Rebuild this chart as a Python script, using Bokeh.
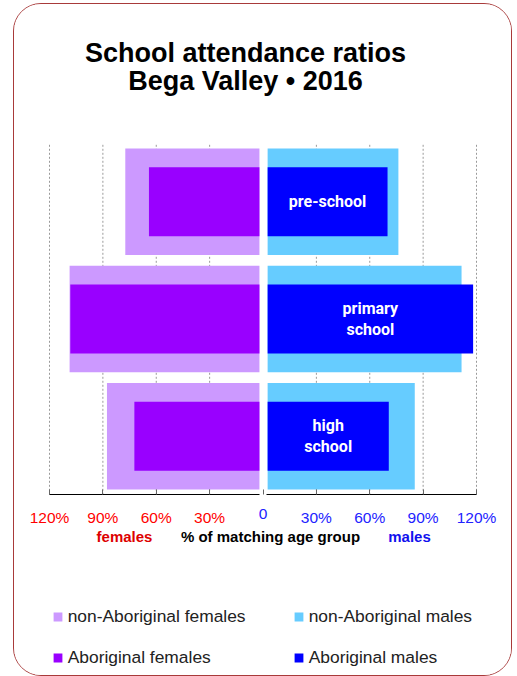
from bokeh.plotting import figure
from bokeh.models import (Range1d, LinearAxis, FixedTicker, Label, Legend, LegendItem,
                          ColumnDataSource, CustomJSTickFormatter)
from bokeh.core.properties import value
from bokeh.embed import file_html
from bokeh.resources import INLINE

# ---------------- data ----------------
categories = ["pre-school", "primary school", "high school"]
non_aboriginal_females = [77.4, 108.7, 87.7]
aboriginal_females = [64.1, 108.3, 72.3]
non_aboriginal_males = [76.1, 111.6, 85.3]
aboriginal_males = [70.0, 118.1, 70.7]
tick_values = [30, 60, 90, 120]

# ---------------- layout / style (pixels) ----------------
W, H = 499, 673                 # canvas size
PX_PER_UNIT = 427 / 240         # horizontal scale (px per %)
ZERO_X = 248.5                  # canvas x of 0 %
BAND_PX = 117.2                 # vertical size of one category band
BARS_BOTTOM = 490.3             # canvas y (from top) of the bottom of the bar area
FEMALE_GAP = 2.0                # white gap between the two halves (in % units)
MALE_GAP = 2.6
C_NAF, C_AF, C_NAM, C_AM = "#cc99ff", "#9900ff", "#66ccff", "#0000ff"

n = len(categories)
ypos = [n - i - 0.5 for i in range(n)]

src = ColumnDataSource(dict(
    y=ypos,
    naf_left=[-v for v in non_aboriginal_females],
    af_left=[-v for v in aboriginal_females],
    f_right=[-FEMALE_GAP] * n,
    m_left=[MALE_GAP] * n,
    nam=non_aboriginal_males,
    am=aboriginal_males,
    label_x=[(MALE_GAP + v) / 2 for v in aboriginal_males],
    label=[c.replace(" ", "\n") for c in categories],
))

x_range = Range1d(-ZERO_X / PX_PER_UNIT, (W - ZERO_X) / PX_PER_UNIT)
y_range = Range1d(-(H - BARS_BOTTOM) / BAND_PX, n + (BARS_BOTTOM - n * BAND_PX) / BAND_PX)

p = figure(width=W, height=H, x_range=x_range, y_range=y_range,
           output_backend="svg", toolbar_location=None,
           x_axis_location=None, y_axis_location=None,
           min_border=0, min_border_left=0, min_border_right=0,
           min_border_top=0, min_border_bottom=0)
p.styles = {"margin-left": "13px", "margin-top": "3px", "margin-bottom": "-20px",
            "border": "1px solid #a83a3a", "border-radius": "28px",
            "overflow": "hidden"}
p.outline_line_color = None
p.xgrid.grid_line_color = None
p.ygrid.grid_line_color = None
p.background_fill_color = "white"
p.border_fill_color = "white"

# dotted vertical grid lines over the bar area
grid_ticks = [-v for v in reversed(tick_values)] + tick_values
p.segment(x0=grid_ticks, x1=grid_ticks, y0=[0] * len(grid_ticks), y1=[n] * len(grid_ticks),
          line_color="#9a9a9a", line_dash="2 2", line_width=1)

# bars
r_naf = p.hbar(y="y", left="naf_left", right="f_right", height=0.909, source=src,
               fill_color=C_NAF, line_color=None)
r_af = p.hbar(y="y", left="af_left", right="f_right", height=0.588, source=src,
              fill_color=C_AF, line_color=None)
r_nam = p.hbar(y="y", left="m_left", right="nam", height=0.909, source=src,
               fill_color=C_NAM, line_color=None)
r_am = p.hbar(y="y", left="m_left", right="am", height=0.588, source=src,
              fill_color=C_AM, line_color=None)

p.text(x="label_x", y="y", text="label", source=src, text_align="center",
       text_baseline="middle", text_color="white", text_font=value("Roboto"),
       text_font_style="bold", text_font_size="16px", text_line_height=1.1)

# axes (drawn at the bottom of the bar area)
fmt = CustomJSTickFormatter(code="return tick == 0 ? '0' : Math.abs(tick) + '%';")
TICK_FONT = "Liberation Sans"


def make_axis(ticks, color, bounds=None, line=True):
    ax = LinearAxis(ticker=FixedTicker(ticks=ticks), formatter=fmt, fixed_location=0,
                    major_tick_in=5, major_tick_out=0, major_tick_line_color="#666666",
                    minor_tick_line_color=None,
                    axis_line_color="black" if line else None,
                    major_label_text_font=TICK_FONT, major_label_text_font_size="15.5px",
                    major_label_text_color=color, major_label_standoff=14)
    if bounds is not None:
        ax.bounds = bounds
    return ax


p.add_layout(make_axis([-v for v in tick_values], "#ff0000", bounds=(-120, -FEMALE_GAP)), "below")
p.add_layout(make_axis([0], "#2222ff", line=False), "below")
p.add_layout(make_axis(tick_values, "#2222ff", bounds=(FEMALE_GAP, 120)), "below")

# titles and axis captions (screen px from the canvas' bottom-left)
for txt, y in [("School attendance ratios", H - 48.3), ("Bega Valley \u2022 2016", H - 76.7)]:
    p.add_layout(Label(x=231, y=y, x_units="screen", y_units="screen", text=txt,
                       text_align="center", text_baseline="alphabetic",
                       text_font="Liberation Sans", text_font_style="bold",
                       text_font_size="27px", text_color="black"))

for txt, x, col in [("females", 110, "#dd0000"), ("% of matching age group", 256, "black"),
                    ("males", 395, "#1111ee")]:
    p.add_layout(Label(x=x, y=H - 531.7, x_units="screen", y_units="screen", text=txt,
                       text_align="center", text_baseline="alphabetic",
                       text_font="Liberation Sans", text_font_style="bold",
                       text_font_size="15px", text_color=col))

legend = Legend(items=[LegendItem(label="non-Aboriginal females", renderers=[r_naf]),
                       LegendItem(label="non-Aboriginal males", renderers=[r_nam]),
                       LegendItem(label="Aboriginal females", renderers=[r_af]),
                       LegendItem(label="Aboriginal males", renderers=[r_am])],
                location=(37.7, 5.8), orientation="horizontal", ncols=2,
                glyph_width=11, glyph_height=11, label_standoff=5,
                label_width=211, label_height=27, spacing=14, padding=0, margin=0,
                border_line_color=None, background_fill_alpha=0,
                label_text_font="Liberation Sans", label_text_font_size="17.4px",
                label_text_color="#222222")
p.add_layout(legend)

open("out.html", "w").write(file_html(p, INLINE))
